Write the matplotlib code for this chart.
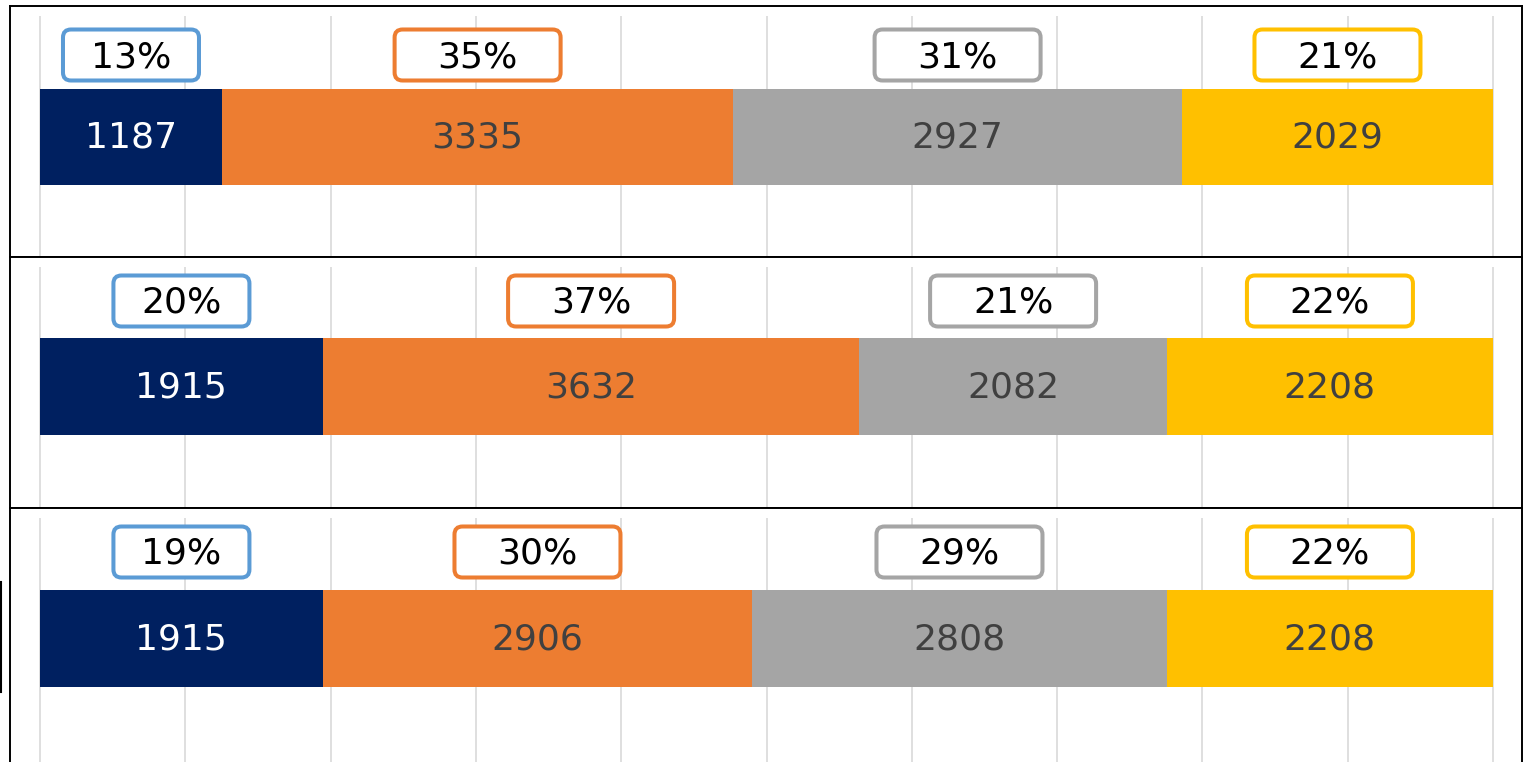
import matplotlib
matplotlib.use("Agg")
import matplotlib.pyplot as plt
from matplotlib.patches import FancyBboxPatch
from matplotlib.transforms import IdentityTransform

# values for each of the three stacked bars
row1 = [1187, 3335, 2927, 2029]
row2 = [1915, 3632, 2082, 2208]
row3 = [1915, 2906, 2808, 2208]
rows = [row1, row2, row3]

# percentage labels as shown above each segment
pct1 = ["13%", "35%", "31%", "21%"]
pct2 = ["20%", "37%", "21%", "22%"]
pct3 = ["19%", "30%", "29%", "22%"]
pcts = [pct1, pct2, pct3]

bar_colors = ["#002060", "#ED7D31", "#A5A5A5", "#FFC000"]
box_colors = ["#5B9BD5", "#ED7D31", "#A5A5A5", "#FFC000"]
val_colors = ["white", "#404040", "#404040", "#404040"]
box_w = [136, 166, 166, 166]

plt.rcParams['font.family'] = ['DejaVu Sans']

W, H = 1528, 762
fig = plt.figure(figsize=(W / 100, H / 100), dpi=100)

left, right = 10, 1522
x0, x1 = 40, 1493
tops = [6, 257, 508]
heights = [251, 251, 262]
box_y = [49, 44, 44]
bar_y = [131, 130, 130]

for i, vals in enumerate(rows):
    top, ph = tops[i], heights[i]
    ax = fig.add_axes([left / W, 1 - (top + ph) / H, (right - left) / W, ph / H])
    span = x1 - x0
    ax.set_xlim((left - x0) / span, (right - x0) / span)
    ax.set_ylim(ph, 0)
    ax.set_xticks([])
    ax.set_yticks([])
    for s in ax.spines.values():
        s.set_linewidth(1.4)
        s.set_color("black")
    if i == 2:
        ax.spines['bottom'].set_visible(False)

    # grid
    grid_x = [k / 10 for k in range(11)]
    ax.vlines(grid_x, 10, ph, color="#D9D9D9", linewidth=1.2, zorder=0)

    total = sum(vals)
    shares = [v / total for v in vals]
    start = 0
    for j, (v, s) in enumerate(zip(vals, shares)):
        ax.barh(bar_y[i], s, left=start, height=97, color=bar_colors[j], zorder=2)
        cx = start + s / 2
        ax.text(cx, bar_y[i] + 1, str(v), ha="center", va="center", fontsize=26,
                color=val_colors[j], zorder=3)
        # rounded label box above the segment
        px, py = ax.transData.transform((cx, box_y[i]))
        bw, bh = box_w[j], 51
        box = FancyBboxPatch((px - bw / 2, py - bh / 2), bw, bh,
                             boxstyle="round,pad=0,rounding_size=8",
                             transform=IdentityTransform(),
                             facecolor="white", edgecolor=box_colors[j],
                             linewidth=2.9, zorder=3)
        ax.add_patch(box)
        ax.text(cx, box_y[i] + 2, pcts[i][j], ha="center", va="center",
                fontsize=26, color="black", zorder=4)
        start += s

# small stray line at the left edge
fig.add_artist(plt.Line2D([0.7 / W, 0.7 / W], [1 - 582 / H, 1 - 692 / H],
                          transform=fig.transFigure, color="black", linewidth=1.5))

fig.savefig("out.png", dpi=100)
